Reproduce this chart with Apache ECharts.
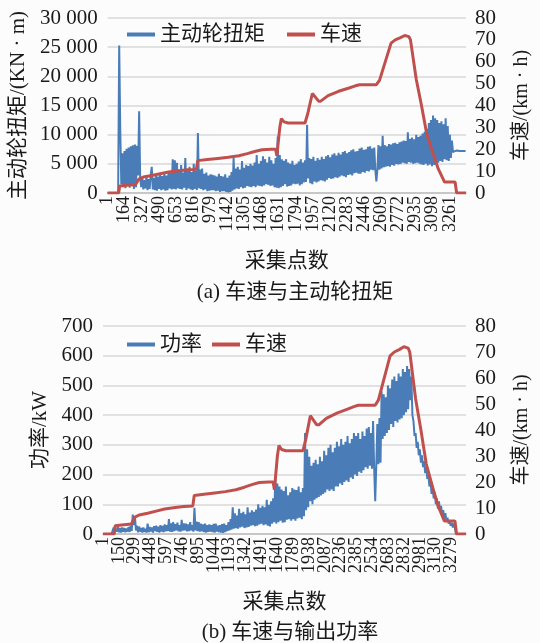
<!DOCTYPE html>
<html>
<head>
<meta charset="utf-8">
<script src="https://cdn.jsdelivr.net/npm/echarts@6/dist/echarts.min.js"></script>
<style>
html,body{margin:0;padding:0;background:#fcfcfc;}
#chart{width:540px;height:643px;}
</style>
</head>
<body>
<div id="chart"></div>
<script>
// ---------- data ----------
// blue series are read every SAMPLE_STEP acquisition points
var SAMPLE_STEP = 10;
var TOTAL_POINTS = 3415;

// speed (km/h): breakpoints of the red curve
var speedIndex = [0,105,115,175,265,300,340,420,500,580,680,760,845,858,950,1050,1150,1250,1330,1400,1470,1560,1600,1612,1640,1655,1680,1720,1880,1905,1950,1965,2010,2030,2100,2200,2300,2360,2400,2560,2590,2700,2740,2790,2830,2870,2885,2940,2990,3040,3100,3150,3210,3310,3325,3414];
var speedKmh   = [0,0,3.2,3.5,3.8,6.5,7.3,8,8.8,9.6,10.2,10.6,10.8,14.8,15.3,15.8,16.3,17,18,19,19.8,20,20,17,30,34,32.5,32,32,36,45.5,46,42,42,44.5,46.5,48,49,49.5,49.5,51.5,68.5,70,71,72,71.5,70,52,40,27,18,11,5,5,0,0];

// drive-wheel torque (KN·m as labelled), one value per 10 points
var torqueValues = [
0,0,0,0,0,0,0,0,0,0,0,25300,11000,1500,6800,1000,7200,800,7600,1200,
7800,900,8000,1500,8200,700,8300,1000,8100,3000,14000,2500,1000,2600,600,2200,800,2800,500,2400,
700,3000,4500,600,2600,500,3000,400,2800,700,3200,500,2900,600,3300,400,3000,500,3500,800,
3400,600,5800,700,5600,600,5200,800,3800,700,4800,600,3500,900,6000,500,3900,800,4500,600,
3600,500,5000,700,3800,500,10300,800,4000,700,4200,500,3300,600,3500,300,3000,400,3200,500,
3100,500,3000,300,2800,400,3300,200,2900,300,2800,300,3200,200,2600,100,3000,200,3600,400,
6000,600,4200,800,4500,700,4000,1000,5500,800,4300,900,4800,1200,4600,1100,5000,1000,4700,1200,
5200,1000,6500,1300,5000,1200,5500,1100,6300,1300,5800,1500,5200,1400,6200,1200,5600,1300,5000,1000,
6000,900,9700,800,6500,1000,5800,1200,5500,1500,5800,1100,5200,1200,5000,1300,5500,1600,4800,1500,
5000,1600,5400,1300,5800,1500,5200,1800,5600,1900,11700,2500,6000,1700,5800,1500,6200,2000,5500,1800,
6000,2000,5700,2200,6200,2100,5800,2000,6300,2300,6500,2600,6100,2400,6600,2500,6800,2700,6400,2600,
6900,2800,6600,3000,7000,2900,7200,2700,6800,3100,7000,3200,7300,3000,7500,3400,7100,3500,7200,3300,
7600,3300,7800,3600,7400,3500,7500,3800,7900,3700,8000,4000,7600,3900,7800,4000,2000,4100,8200,4000,
8000,4200,9800,4400,8200,4500,8000,4600,8400,4500,8300,4800,8500,4700,8600,5000,8400,4900,8700,5000,
8800,5200,9000,5100,8900,5000,10400,5300,9300,5200,9500,5000,9200,5100,10000,5200,9600,5000,9800,4900,
10200,4800,10500,5000,11000,4700,12000,4900,12500,4600,13300,4800,12800,5000,12500,5200,12000,5500,12300,5300,
11800,5800,12800,5600,11500,5500,10000,6000,9000,7000,7300,7200,7200,7300,7200,7200,7100,7200,7200,7200,
7200,7200];

// output power (kW), one value per 10 points
var powerValues = [
0,0,0,0,0,0,0,0,0,0,22,5,18,8,25,6,20,5,22,8,
20,6,18,8,24,7,28,10,65,30,60,12,28,6,25,8,20,5,22,7,
18,5,35,6,24,8,22,5,26,10,28,7,25,5,30,8,27,6,32,9,
30,10,50,8,36,7,40,10,33,12,38,9,30,8,48,11,36,12,35,9,
32,10,40,12,30,8,88,12,42,10,40,8,35,9,32,6,35,5,30,7,
32,8,30,6,34,5,35,8,28,6,30,5,33,4,35,6,30,10,40,12,
50,15,90,18,70,20,62,18,85,22,70,25,75,20,66,22,90,24,72,28,
80,30,75,26,82,28,100,32,88,35,95,30,90,32,115,28,98,25,110,35,
120,40,190,35,170,40,160,45,150,38,145,40,160,48,130,50,140,45,155,50,
150,45,148,52,160,55,140,50,155,60,340,80,285,90,260,110,230,100,240,115,
250,120,235,125,260,130,245,135,280,140,265,150,290,145,300,150,275,145,290,160,
310,160,295,170,320,165,300,175,310,180,330,175,305,190,320,185,340,200,330,195,
340,210,320,205,345,215,330,225,355,220,360,230,340,220,380,225,110,230,370,235,
390,240,480,320,470,330,460,340,500,350,490,370,520,360,530,380,515,375,540,385,
530,390,555,400,545,410,565,420,555,450,530,400,380,330,340,290,310,265,285,240,
265,225,245,205,225,185,200,160,180,135,160,120,140,100,120,85,110,75,95,60,
80,50,70,42,55,35,45,28,38,22,35,20,0,0,0,0,0,0,0,0,
0,0];

// tick settings (labels are acquisition point numbers)
var topTickStep = 163;
var bottomTickStep = 149;
var torqueTicks = {min:0, max:30000, interval:5000};
var powerTicks = {min:0, max:700, interval:100};
var speedTicks = {min:0, max:80, interval:10};

// ---------- build ----------
function pairs(values){ var out=[]; for(var i=0;i<values.length;i++){ out.push([i*SAMPLE_STEP, values[i]]); } return out; }
var speedData = speedIndex.map(function(x,i){ return [x, speedKmh[i]]; });

var BLUE = '#4a7cb8', RED = '#c0504d';
var FONT = '"Liberation Serif","Noto Sans CJK SC",serif';
var TXT = '#1a1a1a';

function thousands(v){
  if (v >= 1000) { var r = v % 1000; return Math.floor(v/1000) + ' ' + ('00' + r).slice(-3); }
  return String(v);
}
var xLabelStyle = {rotate:90, fontFamily:FONT, fontSize:18, color:TXT, margin:3, hideOverlap:false,
  formatter:function(v){ return String(v+1); }};

function xAxisCfg(gridIndex, step){
  return {
    type:'value', gridIndex:gridIndex, position:'bottom', min:0, max:TOTAL_POINTS-1, interval:step,
    name:'采集点数', nameLocation:'middle', nameGap:58,
    nameTextStyle:{fontFamily:FONT, fontSize:21, color:TXT},
    axisLine:{show:true, onZero:false, lineStyle:{color:'#bfbfbf', width:1.5}},
    axisTick:{show:false}, splitLine:{show:false},
    axisLabel:Object.assign({}, xLabelStyle, {showMinLabel:false, showMaxLabel:false})
  };
}
// companion axis carrying only the first label ("1")
function xFirstLabelAxis(gridIndex){
  return {
    type:'value', gridIndex:gridIndex, position:'bottom', min:0, max:TOTAL_POINTS-1, interval:TOTAL_POINTS-1,
    axisLine:{show:false}, axisTick:{show:false}, splitLine:{show:false},
    axisLabel:Object.assign({}, xLabelStyle, {showMinLabel:true, showMaxLabel:false})
  };
}
function yLeft(gridIndex, ticks, name, gap, fmt){
  return {
    type:'value', gridIndex:gridIndex, position:'left', min:ticks.min, max:ticks.max, interval:ticks.interval,
    name:name, nameLocation:'middle', nameRotate:90, nameGap:gap,
    nameTextStyle:{fontFamily:FONT, fontSize:21, color:TXT},
    axisLine:{show:false}, axisTick:{show:false},
    splitLine:{show:true, lineStyle:{color:'#d9d9d9', width:1.5}},
    axisLabel:{fontFamily:FONT, fontSize:21, color:TXT, margin:10, formatter:fmt}
  };
}
function yRight(gridIndex, name, gap){
  return {
    type:'value', gridIndex:gridIndex, position:'right', min:speedTicks.min, max:speedTicks.max, interval:speedTicks.interval,
    name:name, nameLocation:'middle', nameRotate:90, nameGap:gap,
    nameTextStyle:{fontFamily:FONT, fontSize:20, color:TXT},
    axisLine:{show:false}, axisTick:{show:false}, splitLine:{show:false},
    axisLabel:{fontFamily:FONT, fontSize:21, color:TXT, margin:9}
  };
}
function lineSeries(name, xi, yi, data, color, width){
  return {name:name, type:'line', xAxisIndex:xi, yAxisIndex:yi, data:data, showSymbol:false, symbol:'none',
    lineStyle:{color:color, width:width}, itemStyle:{color:color}, animation:false, z:width>2?3:2};
}

var chart = echarts.init(document.getElementById('chart'), null, {renderer:'canvas'});
chart.setOption({
  backgroundColor:'#fcfcfc',
  animation:false,
  title:[
    {text:'(a) 车速与主动轮扭矩', left:290, top:277, textAlign:'center',
     textStyle:{fontFamily:FONT, fontSize:21, fontWeight:'normal', color:TXT}},
    {text:'(b) 车速与输出功率', left:285, top:617, textAlign:'center',
     textStyle:{fontFamily:FONT, fontSize:21, fontWeight:'normal', color:TXT}}
  ],
  legend:[
    {data:['主动轮扭矩','车速'], left:122, top:19, icon:'rect', itemWidth:28, itemHeight:4, itemGap:22,
     textStyle:{fontFamily:FONT, fontSize:21, color:TXT}, selectedMode:false},
    {data:['功率','车速'], left:122, top:329, icon:'rect', itemWidth:28, itemHeight:4, itemGap:10,
     textStyle:{fontFamily:FONT, fontSize:21, color:TXT}, selectedMode:false}
  ],
  grid:[
    {left:103, right:61, top:18, height:175},
    {left:103, right:61, top:326, height:208}
  ],
  xAxis:[ xAxisCfg(0, topTickStep), xAxisCfg(1, bottomTickStep), xFirstLabelAxis(0), xFirstLabelAxis(1) ],
  yAxis:[
    yLeft(0, torqueTicks, '主动轮扭矩/(KN · m)', 76, thousands),
    yRight(0, '车速/(km · h)', 46),
    yLeft(1, powerTicks, '功率/kW', 46),
    yRight(1, '车速/(km · h)', 46)
  ],
  series:[
    lineSeries('主动轮扭矩', 0, 0, pairs(torqueValues), BLUE, 2),
    lineSeries('车速', 0, 1, speedData, RED, 3),
    lineSeries('功率', 1, 2, pairs(powerValues), BLUE, 2),
    lineSeries('车速', 1, 3, speedData, RED, 3)
  ]
});
</script>
</body>
</html>
